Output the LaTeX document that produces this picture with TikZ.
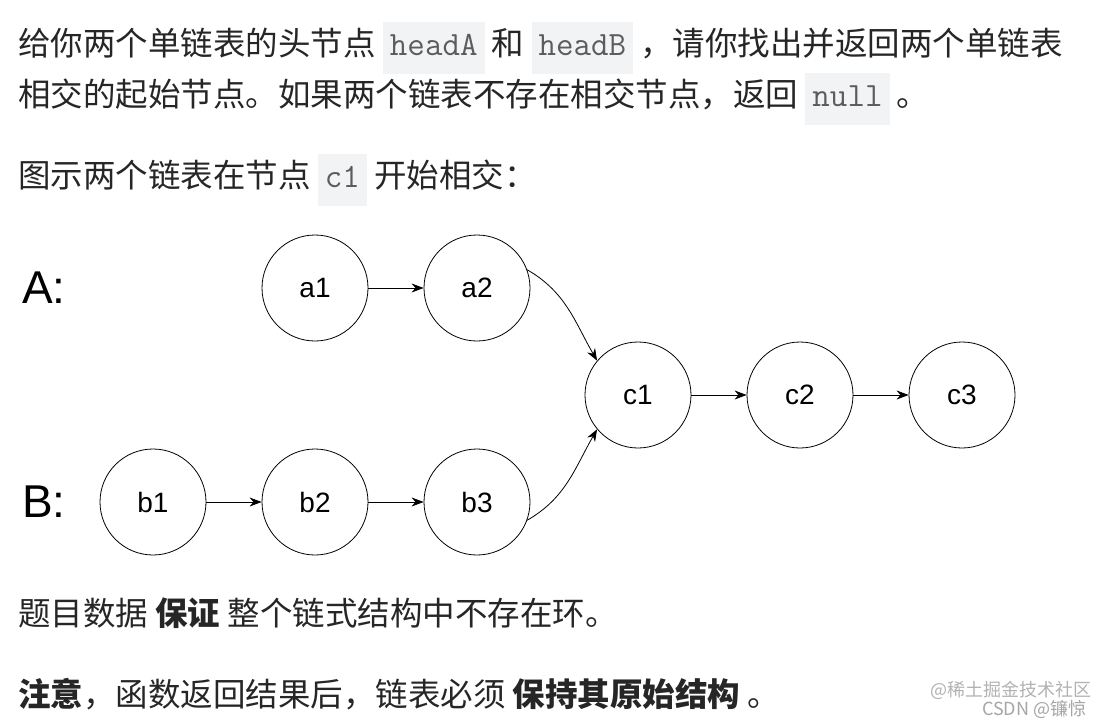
\documentclass[tikz,border=0pt]{standalone}
\usepackage{fontspec}
\setmainfont{Noto Sans CJK SC}
\newfontfamily\lsans{Liberation Sans}
\usetikzlibrary{arrows.meta}
\definecolor{codebg}{HTML}{F2F3F5}
\definecolor{txt}{HTML}{262626}
\newcommand{\cbox}[1]{{\setlength{\fboxsep}{7pt}\colorbox{codebg}{\fontsize{34}{38}\ttfamily\color{txt!75}\strut #1}}}
\tikzset{
  ln/.style={anchor=west,font=\fontsize{32.5}{36}\selectfont,text=txt,inner sep=0pt},
  nd/.style={circle,draw,line width=0.8pt,minimum size=106pt,font=\lsans\fontsize{28}{30}\selectfont},
  ar/.style={-{Stealth[length=12pt,width=9pt]},line width=0.8pt},
  lbl/.style={font=\lsans\fontsize{46}{48}\selectfont,inner sep=0pt},
}
\begin{document}
\begin{tikzpicture}[x=1pt,y=-1pt]
\useasboundingbox[fill=white] (0,0) rectangle (1113,725);
\node[ln] (l1) at (18,48) {给你两个单链表的头节点 \cbox{headA} 和 \cbox{headB} ，请你找出并返回两个单链表};
\node[ln] (l2) at (18,99) {相交的起始节点。如果两个链表不存在相交节点，返回 \cbox{null} 。};
\node[ln] (l3) at (18,180) {图示两个链表在节点 \cbox{c1} 开始相交：};
\node[lbl] (A) at (44,288) {A:};
\node[lbl] (B) at (44,502) {B:};
\node[nd] (a1) at (315,288) {a1};
\node[nd] (a2) at (477,288) {a2};
\node[nd] (c1) at (638,395) {c1};
\node[nd] (c2) at (800,395) {c2};
\node[nd] (c3) at (962,395) {c3};
\node[nd] (b1) at (153,502) {b1};
\node[nd] (b2) at (315,502) {b2};
\node[nd] (b3) at (477,502) {b3};
\draw[ar] (a1) -- (a2);
\draw[ar] (c1) -- (c2);
\draw[ar] (c2) -- (c3);
\draw[ar] (b1) -- (b2);
\draw[ar] (b2) -- (b3);
\draw[ar] (a2.20) to[out=-30,in=120] (c1.140);
\draw[ar] (b3.-20) to[out=30,in=-120] (c1.-140);
\node[ln] (l4) at (18,613) {题目数据 \textbf{保证} 整个链式结构中不存在环。};
\node[ln] (l5) at (18,694) {\textbf{注意}，函数返回结果后，链表必须 \textbf{保持其原始结构} 。};
\node[anchor=west,text=gray!60,font=\fontsize{18}{20}\selectfont,inner sep=0pt] (w1) at (930,690) {@稀土掘金技术社区};
\node[anchor=west,text=gray!70,font=\fontsize{18}{20}\selectfont,inner sep=0pt] (w2) at (982,709) {CSDN @镰惊};
\end{tikzpicture}
\end{document}
